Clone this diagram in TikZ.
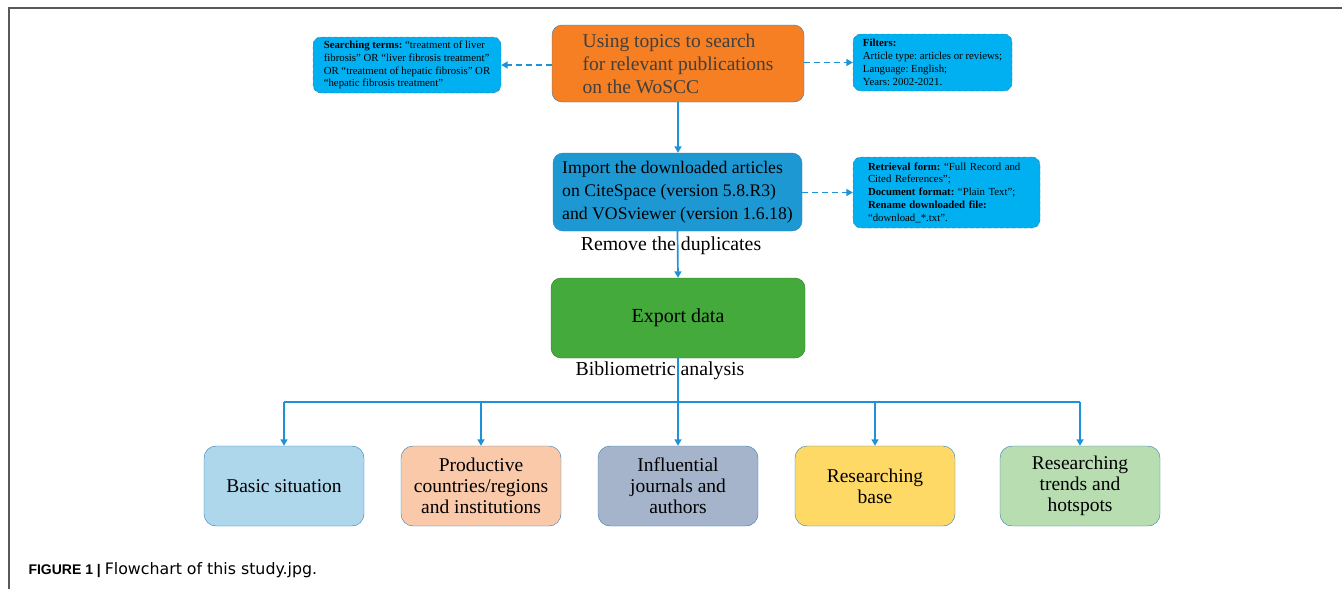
\documentclass[tikz,border=0pt]{standalone}
\usepackage{fontspec}
\setmainfont{Liberation Serif}
\newfontfamily\capfont{Liberation Sans}
\newfontfamily\capwide{DejaVu Sans}
\usetikzlibrary{arrows.meta}
\definecolor{linkblue}{HTML}{1E92D8}
\definecolor{searchorange}{HTML}{F57F22}
\definecolor{notecyan}{HTML}{00B0F0}
\definecolor{noteedge}{HTML}{3C6E93}
\definecolor{importblue}{HTML}{1E98D3}
\definecolor{exportgreen}{HTML}{44AA3B}
\definecolor{boxedge}{HTML}{2E7DB5}
\tikzset{
    bigbox/.style={draw=boxedge, rounded corners=10pt, inner sep=0pt, align=left},
    notebox/.style={draw=noteedge, dashed, fill=notecyan, rounded corners=8pt,
        inner sep=0pt, align=left, font=\fontsize{10.8}{12.8}\selectfont},
    topicbox/.style={draw=boxedge, rounded corners=12pt, minimum width=160pt,
        minimum height=80pt, align=center, font=\fontsize{19.5}{21}\selectfont},
    flow/.style={linkblue, line width=1.7pt, -{Triangle[width=7pt,length=6.5pt]}},
    sideflow/.style={flow, dashed, dash pattern=on 6pt off 4pt},
    conn/.style={linkblue, line width=1.7pt},
    plainlabel/.style={font=\fontsize{19.8}{22}\selectfont}
}
\frenchspacing
\begin{document}
\begin{tikzpicture}[x=1pt,y=-1pt]
    \useasboundingbox (0,0) rectangle (1342,589);
    \draw[gray!70!black, line width=1.2pt] (9,589) -- (9,8) -- (1342,8);
    % search step
    \node[bigbox, fill=searchorange, minimum width=252pt, minimum height=77pt,
        text=black!75, font=\fontsize{19.5}{23}\selectfont]
        (search) at (678,63.5) {Using topics to search\\for relevant publications\\on the WoSCC};
    \node[notebox, minimum width=188pt, minimum height=56pt]
        (terms) at (407,65) {\textbf{Searching terms:} “treatment of liver\\fibrosis” OR “liver fibrosis treatment”\\OR “treatment of hepatic fibrosis” OR\\“hepatic fibrosis treatment”};
    \node[notebox, minimum width=159pt, minimum height=57pt]
        (filters) at (932.5,62.5) {\textbf{Filters:}\\Article type: articles or reviews;\\Language: English;\\Years: 2002-2021.};
    % import step
    \node[bigbox, fill=importblue, minimum width=249pt, minimum height=78pt,
        font=\fontsize{17.7}{23}\selectfont]
        (import) at (677.5,192) {Import the downloaded articles\\on CiteSpace (version 5.8.R3)\\and VOSviewer (version 1.6.18)};
    \node[notebox, minimum width=187pt, minimum height=71pt, text width=157pt]
        (retrieval) at (946.5,192.5) {\textbf{Retrieval form:} “Full Record and\\Cited References”;\\\textbf{Document format:} “Plain Text”;\\\textbf{Rename downloaded file:}\\“download\_*.txt”.};
    \node[plainlabel] (dup) at (671,246) {Remove the duplicates};
    % export step
    \node[bigbox, fill=exportgreen, draw=exportgreen!70!black, minimum width=254pt,
        minimum height=80pt, align=center, font=\fontsize{20}{22}\selectfont]
        (export) at (678,318) {Export data};
    \node[plainlabel] (biblio) at (660,371) {Bibliometric analysis};
    % topics
    \node[topicbox, fill={rgb,255:red,174;green,215;blue,236}] (basic) at (284,486) {Basic situation};
    \node[topicbox, fill={rgb,255:red,249;green,201;blue,169}] (countries) at (481,486) {Productive\\countries/regions\\and institutions};
    \node[topicbox, fill={rgb,255:red,165;green,180;blue,202}] (journals) at (678,486) {Influential\\journals and\\authors};
    \node[topicbox, fill={rgb,255:red,255;green,217;blue,102}] (base) at (875,486) {Researching\\base};
    \node[topicbox, fill={rgb,255:red,183;green,221;blue,177}] (trends) at (1080,486) {Researching\\trends and\\hotspots};
    % connectors
    \draw[sideflow] (search.west |- terms.east) -- (terms.east);
    \draw[sideflow] (search.east |- filters.west) -- (filters.west);
    \draw[sideflow] (import.east |- retrieval.west) -- (retrieval.west);
    \draw[flow] (search.south) -- (search.south |- import.north);
    \draw[flow] (import.south) -- (export.north);
    \coordinate (split) at (678,402);
    \draw[conn] (export.south) -- (split);
    \draw[conn] (basic |- split) -- (trends |- split);
    \foreach \n in {basic,countries,journals,base,trends}
        \draw[flow] (\n |- split) -- (\n.north);
    % caption
    \node[anchor=base west, font=\fontsize{14}{16}\selectfont] (caption) at (25,574)
        {\capfont\textbf{FIGURE 1 |} \capwide\fontsize{15.8}{16}\selectfont Flowchart of this study.jpg.};
\end{tikzpicture}
\end{document}
